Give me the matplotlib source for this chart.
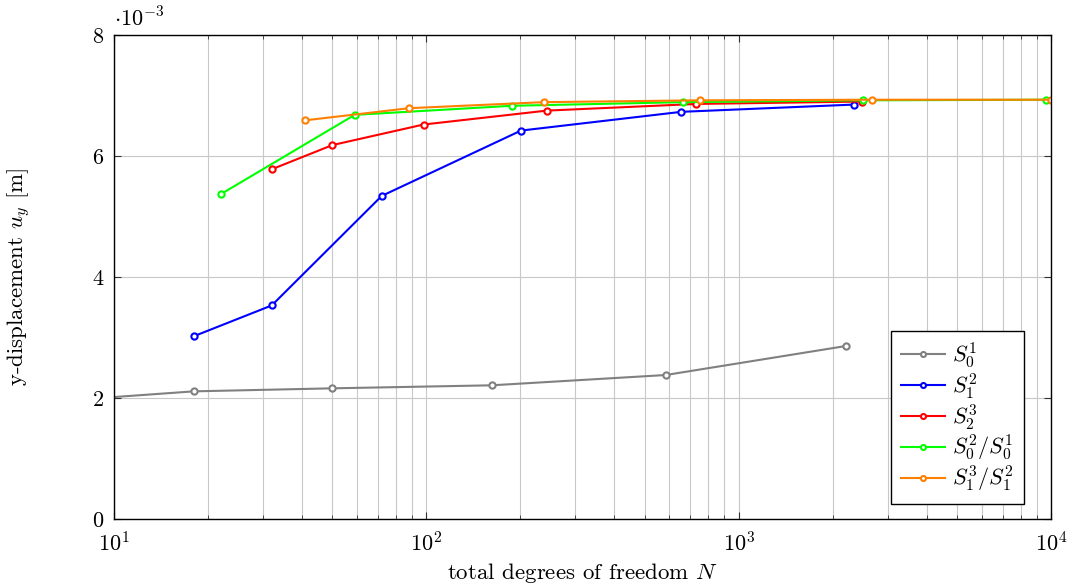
import matplotlib

matplotlib.use("Agg")
import matplotlib.pyplot as plt
from matplotlib.ticker import LogLocator, NullFormatter

plt.rcParams["font.family"] = "serif"
plt.rcParams["font.serif"] = ["cmr10"]
plt.rcParams["mathtext.fontset"] = "cm"
plt.rcParams["axes.formatter.use_mathtext"] = True

# data: total dofs N and y-displacement in units of 1e-3 m
n_s01 = [8, 18, 50, 162, 584, 2208]
u_s01 = [1.98, 2.11, 2.16, 2.21, 2.38, 2.86]

n_s12 = [18, 32, 72, 201, 656, 2342]
u_s12 = [3.02, 3.53, 5.34, 6.42, 6.73, 6.85]

n_s23 = [32, 50, 98, 243, 729, 2490]
u_s23 = [5.78, 6.18, 6.52, 6.75, 6.86, 6.90]

n_s02 = [22, 59, 188, 665, 2496, 9620]
u_s02 = [5.37, 6.68, 6.83, 6.89, 6.92, 6.93]

n_s13 = [41, 88, 238, 752, 2674, 10000]
u_s13 = [6.59, 6.79, 6.89, 6.92, 6.93, 6.93]

series = [
    (n_s01, u_s01, "#808080", r"$S_0^1$"),
    (n_s12, u_s12, "#0000ff", r"$S_1^2$"),
    (n_s23, u_s23, "#ff0000", r"$S_2^3$"),
    (n_s02, u_s02, "#00ff00", r"$S_0^2/S_0^1$"),
    (n_s13, u_s13, "#ff8000", r"$S_1^3/S_1^2$"),
]

fig = plt.figure(figsize=(10.7, 5.86), dpi=100)
ax = fig.add_axes([0.1065, 0.1143, 0.8757, 0.826])

for n, u, col, lab in series:
    ax.plot(n, u, color=col, lw=1.5, marker="o", ms=4.5, mfc="white",
            mec=col, mew=1.5, label=lab)

ax.set_xscale("log")
ax.set_xlim(10, 1e4)
ax.set_ylim(0, 8)
ax.set_yticks([0, 2, 4, 6, 8])
ax.xaxis.set_minor_locator(LogLocator(base=10, subs=range(2, 10)))
ax.xaxis.set_minor_formatter(NullFormatter())

ax.grid(True, which="major", color="#c8c8c8", lw=0.8)
ax.grid(True, which="minor", axis="x", color="#c8c8c8", lw=0.8)
ax.set_axisbelow(True)

ax.tick_params(which="both", direction="in", top=True, right=True,
               labelsize=16, color="#333333", pad=7)
ax.tick_params(axis="x", pad=9)
ax.tick_params(which="major", length=5)
ax.tick_params(which="minor", length=3)
for s in ax.spines.values():
    s.set_linewidth(1.0)

ax.text(0.0, 1.01, r"$\cdot 10^{-3}$", transform=ax.transAxes,
        ha="left", va="bottom", fontsize=16)

ax.set_xlabel(r"total degrees of freedom $N$", fontsize=16.5, labelpad=4)
ax.set_ylabel(r"y-displacement $u_y$ [m]", fontsize=16.5, labelpad=42)

leg = ax.legend(loc="lower right", bbox_to_anchor=(0.971, 0.031),
                fontsize=16, frameon=True, fancybox=False,
                edgecolor="black", framealpha=1.0, handlelength=2.0,
                handletextpad=0.3, labelspacing=0.05, borderpad=0.45,
                borderaxespad=0.0, markerscale=0.8)
leg.get_frame().set_linewidth(1.0)

fig.savefig("out.png", dpi=100, facecolor="white")
